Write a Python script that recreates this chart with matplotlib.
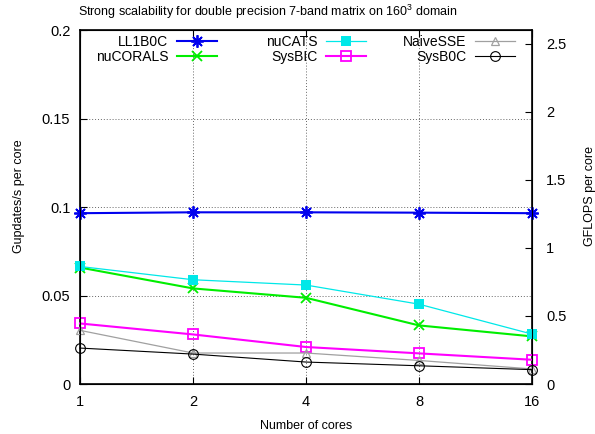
import matplotlib
matplotlib.use("Agg")
from matplotlib import pyplot as plt

plt.rcParams['font.family'] = ['Liberation Sans', 'DejaVu Sans']
plt.rcParams['mathtext.fontset'] = 'custom'
plt.rcParams['mathtext.rm'] = 'Liberation Sans'
plt.rcParams['mathtext.it'] = 'Liberation Sans:italic'

cores = [1, 2, 4, 8, 16]
core_labels = ['1', '2', '4', '8', '16']

ll1b0c = [0.0965, 0.0970, 0.0970, 0.0968, 0.0965]
nucorals = [0.0658, 0.0540, 0.0487, 0.0331, 0.0269]
nucats = [0.0664, 0.0589, 0.0559, 0.0451, 0.0282]
sysbic = [0.0342, 0.0280, 0.0209, 0.0173, 0.0137]
naivesse = [0.0303, 0.0175, 0.0175, 0.0133, 0.0085]
sysb0c = [0.0203, 0.0169, 0.0124, 0.0103, 0.0081]

y_ticks = [0, 0.05, 0.1, 0.15, 0.2]
y_ticklabels = ['0', '0.05', '0.1', '0.15', '0.2']
y2_ticks = [0, 0.5, 1, 1.5, 2, 2.5]
y2_ticklabels = ['0', '0.5', '1', '1.5', '2', '2.5']

W, H = 595, 434
fig = plt.figure(figsize=(W / 100, H / 100), dpi=100)
plt.subplots_adjust(left=80 / W, right=532 / W, top=1 - 30 / H, bottom=1 - 384 / H)
ax = fig.add_subplot(111)
fs_tick = 10.5
fs_leg = 10
fs_lab = 9

series = [
    ("LL1B0C", ll1b0c, dict(color='#0000ee', lw=1.5, marker=(8, 2, 0), ms=9, mew=1.3)),
    ("nuCORALS", nucorals, dict(color='#00ee00', lw=1.5, marker='x', ms=7, mew=1.3)),
    ("nuCATS", nucats, dict(color='#00e8e8', lw=0.9, marker='s', ms=7, mew=0)),
    ("SysBIC", sysbic, dict(color='#ff00ff', lw=1.5, marker='s', ms=7, mfc='none', mew=1.3)),
    ("NaiveSSE", naivesse, dict(color='#a0a0a0', lw=0.9, marker='^', ms=6, mfc='none', mew=0.9)),
    ("SysB0C", sysb0c, dict(color='black', lw=0.8, marker='o', ms=7, mfc='none', mew=0.8)),
]
handles = []
for name, vals, st in series:
    h, = ax.plot(cores, vals, label=name, clip_on=False, zorder=3, **st)
    handles.append(h)

ax.set_xscale('log', base=2)
ax.set_xlim(1, 16)
ax.set_xticks(cores)
ax.set_xticklabels(core_labels)
ax.minorticks_off()
ax.set_ylim(0, 0.2)
ax.set_yticks(y_ticks)
ax.set_yticklabels(y_ticklabels)
ax.grid(True, color='black', linestyle=(0, (1, 2)), linewidth=0.7, alpha=0.6)
ax.tick_params(direction='in', length=5, labelsize=fs_tick, top=True, right=False)
ax.tick_params(axis='y', pad=7)
ax.tick_params(axis='x', pad=8)
for sp in ax.spines.values():
    sp.set_linewidth(1.2)

ax2 = ax.twinx()
ax2.set_ylim(0, 2.6)
ax2.set_yticks(y2_ticks)
ax2.set_yticklabels(y2_ticklabels)
ax2.tick_params(direction='in', length=5, labelsize=fs_tick, pad=10)

ax.set_xlabel('Number of cores', fontsize=fs_lab, labelpad=8)
ax.set_ylabel('Gupdates/s per core', fontsize=fs_lab)
ax.yaxis.set_label_coords(-55 / 452, 0.53)
ax2.set_ylabel('GFLOPS per core', fontsize=fs_lab)
ax2.yaxis.set_label_coords(1 + 52 / 452, 0.53)
fig.text(0.5 - 30 / W, 1 - 12 / H, r'Strong scalability for double precision 7-band matrix on 160$^3$ domain',
         ha='center', va='center', fontsize=fs_lab)

# gnuplot style key: three columns, label right-aligned before sample
col_right = [217, 366, 515]
for j, xr in enumerate(col_right):
    leg = ax2.legend(handles=handles[2 * j:2 * j + 2], loc='upper right',
                     bbox_to_anchor=(xr / W, 1 - 35 / H), bbox_transform=fig.transFigure,
                     frameon=False, markerfirst=False, fontsize=fs_leg, handlelength=2.9,
                     handletextpad=0.6, labelspacing=0.05, borderpad=0, borderaxespad=0)
    if j < 2:
        ax2.add_artist(leg)

plt.savefig('out.png', dpi=100)
